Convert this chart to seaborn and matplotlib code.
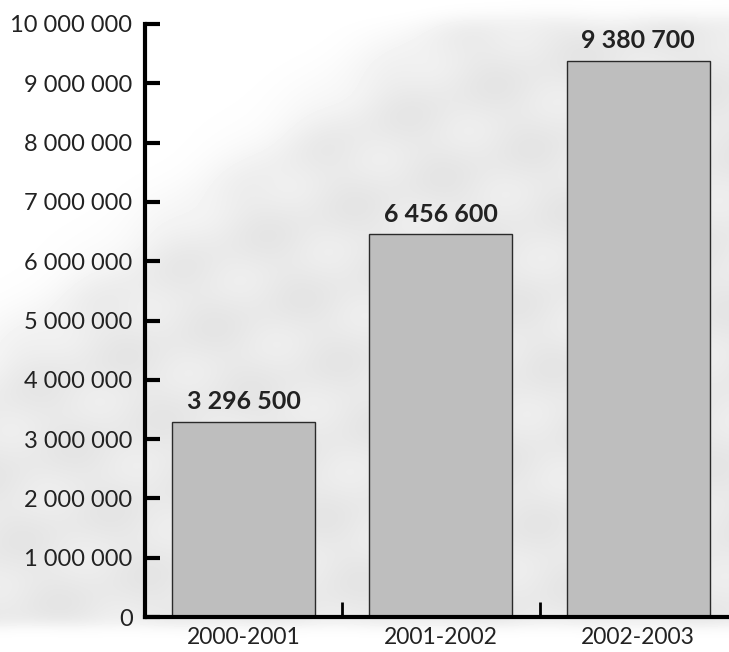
import numpy as np
import pandas as pd
import matplotlib
matplotlib.use("Agg")
import matplotlib.pyplot as plt
import seaborn as sns

# Values per school year
years = ["2000-2001", "2001-2002", "2002-2003"]
values = [3296500, 6456600, 9380700]
y_ticks = [0, 1000000, 2000000, 3000000, 4000000, 5000000,
           6000000, 7000000, 8000000, 9000000, 10000000]


def spaced(n):
    return f"{n:,}".replace(",", " ")


sns.set_theme(style="white")
plt.rcParams["font.family"] = ["Lato", "DejaVu Sans"]

W, H = 729, 652
fig = plt.figure(figsize=(W / 100, H / 100), dpi=100)

# Soft grey backdrop shape behind the chart
bg = fig.add_axes([0, 0, 1, 1], zorder=0)
yy, xx = np.mgrid[0:H, 0:W].astype(float)
# signed distance to a diagonal edge running from the upper middle to the left
x0, y0, x1, y1 = 450, 10, 60, 300
nx, ny = (y1 - y0), -(x1 - x0)
norm = np.hypot(nx, ny)
d = ((xx - x0) * nx + (yy - y0) * ny) / norm
shade = 1 / (1 + np.exp(-d / 18.0))
shade *= 1 / (1 + np.exp((yy - 625) / 4.0))
shade *= 1 / (1 + np.exp(-(yy - 18) / 6.0))
texture = 0.5 + 0.5 * np.sin(xx / 23.0 + yy / 41.0) * np.cos(yy / 17.0 - xx / 61.0)
img = 1.0 - shade * (0.07 + 0.035 * texture)
bg.imshow(img, cmap="gray", vmin=0, vmax=1, extent=(0, W, H, 0), aspect="auto",
          interpolation="bilinear")
bg.set_axis_off()

ax = fig.add_axes([145 / W, (H - 617) / H, (W - 145) / W, (617 - 24) / H], zorder=1)
ax.patch.set_alpha(0)

df = pd.DataFrame({"year": years, "value": values})
sns.barplot(data=df, x="year", y="value", ax=ax, color="#bebebe",
            saturation=1, width=0.725, edgecolor="#2a2a2a", linewidth=1.0)

for i, v in enumerate(values):
    ax.annotate(spaced(v), (i, v), xytext=(0, 6), textcoords="offset points",
                ha="center", va="bottom", fontsize=18, fontweight="bold",
                color="#222222")

ax.set_ylim(0, 10000000)
ax.set_xlim(-0.5, 2.46)
ax.set_yticks(y_ticks)
ax.set_yticklabels([spaced(t) for t in y_ticks], fontsize=17, color="#222222")
ax.set_xticks(range(len(years)))
ax.set_xticklabels(years, fontsize=16.5, color="#222222")
ax.set_xticks([0.5, 1.5], minor=True)
ax.set_xlabel("")
ax.set_ylabel("")

for side in ["top", "right"]:
    ax.spines[side].set_visible(False)
for side in ["left", "bottom"]:
    ax.spines[side].set_visible(True)
    ax.spines[side].set_color("black")
    ax.spines[side].set_linewidth(3)

ax.tick_params(axis="y", direction="in", length=11, width=3, color="black",
               left=True, pad=9)
ax.tick_params(axis="x", which="major", length=0, pad=7)
ax.tick_params(axis="x", which="minor", direction="in", length=11, width=2,
               color="black", bottom=True)

fig.savefig("out.png", dpi=100)
